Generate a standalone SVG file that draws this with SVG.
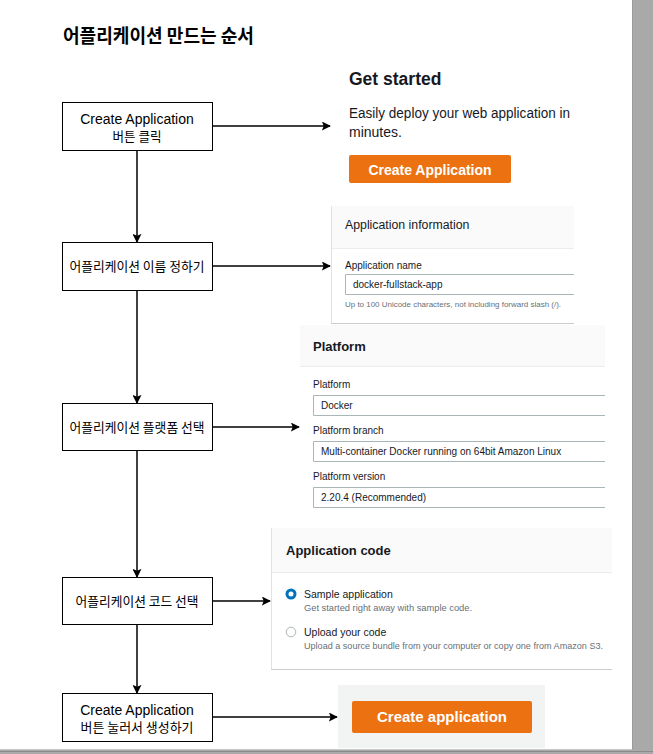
<svg xmlns="http://www.w3.org/2000/svg" width="653" height="754" viewBox="0 0 653 754">
  <style>
    .node rect { fill: #ffffff; stroke: #000000; stroke-width: 1; }
    .lbl { font-family: "Liberation Sans", "Noto Sans CJK KR", sans-serif; font-size: 14px; fill: #000000; text-anchor: middle; }
    .ko { font-family: "Noto Sans CJK KR", sans-serif; font-size: 13px; fill: #000000; text-anchor: middle; }
    .edge { stroke: #000000; stroke-width: 1.5; fill: none; marker-end: url(#arrow); }
    .ui { font-family: "Liberation Sans", Arial, sans-serif; fill: #16191f; }
    .hint { font-family: "Liberation Sans", Arial, sans-serif; fill: #687078; }
    .field { fill: #ffffff; stroke: #aab7b8; stroke-width: 1; }
    .panel-head { fill: #fafafa; }
    .btn { fill: #ec7211; }
    .btntxt { font-family: "Liberation Sans", Arial, sans-serif; font-weight: bold; fill: #ffffff; text-anchor: middle; }
  </style>
  <defs>
    <marker id="arrow" viewBox="0 0 10 10" refX="9" refY="5" markerWidth="6" markerHeight="6" orient="auto" markerUnits="strokeWidth">
      <path d="M0,0 L10,5 L0,10 L2,5 z" fill="#000000"/>
    </marker>
  </defs>

  <!-- page background and window frame -->
  <rect x="0" y="0" width="653" height="754" fill="#ffffff"/>
  <rect x="632" y="0" width="21" height="754" fill="#a9a9a9"/>
  <line x1="632.5" y1="0" x2="632.5" y2="749" stroke="#9a9a9a"/>
  <rect x="0" y="749" width="653" height="5" fill="#a9a9a9"/>
  <line x1="0" y1="749.5" x2="632" y2="749.5" stroke="#c8c8c8"/>
  <line x1="0" y1="751.5" x2="653" y2="751.5" stroke="#8a8a8a"/>

  <!-- title -->
  <text x="63" y="43" font-family="'Noto Sans CJK KR', sans-serif" font-size="19" font-weight="bold" fill="#000000" textLength="191" lengthAdjust="spacingAndGlyphs">어플리케이션 만드는 순서</text>

  <!-- step 1 screenshot: Get started -->
  <g id="shot-get-started">
    <text class="ui" x="349" y="85" font-size="17.5" font-weight="bold">Get started</text>
    <text class="ui" x="349" y="118" font-size="14" textLength="221" lengthAdjust="spacingAndGlyphs">Easily deploy your web application in</text>
    <text class="ui" x="349" y="137" font-size="14">minutes.</text>
    <rect class="btn" x="349" y="155" width="162" height="28" rx="2"/>
    <text class="btntxt" x="430" y="175" font-size="14">Create Application</text>
  </g>

  <!-- step 2 screenshot: Application information -->
  <g id="shot-app-info">
    <rect x="331" y="206" width="243" height="117" fill="#ffffff"/>
    <rect class="panel-head" x="331" y="206" width="243" height="42"/>
    <line x1="331" y1="248.5" x2="574" y2="248.5" stroke="#eaeded"/>
    <line x1="331.5" y1="206" x2="331.5" y2="324" stroke="#dfe3e3"/>
    <line x1="331" y1="323.5" x2="574" y2="323.5" stroke="#c9cfd0"/>
    <text class="ui" x="345" y="229" font-size="12.3">Application information</text>
    <text class="ui" x="345" y="269" font-size="10">Application name</text>
    <path class="field" d="M574,274.5 H345.5 V294.5 H574" fill="none"/>
    <text class="ui" x="353" y="288" font-size="10">docker-fullstack-app</text>
    <text class="hint" x="345" y="307" font-size="8" textLength="216" lengthAdjust="spacingAndGlyphs">Up to 100 Unicode characters, not including forward slash (/).</text>
  </g>

  <!-- step 3 screenshot: Platform -->
  <g id="shot-platform">
    <rect class="panel-head" x="300" y="325" width="305" height="41"/>
    <line x1="300" y1="366.5" x2="605" y2="366.5" stroke="#eaeded"/>
    <text class="ui" x="313" y="351" font-size="13" font-weight="bold">Platform</text>
    <text class="ui" x="313" y="388" font-size="10">Platform</text>
    <path class="field" d="M605,395.5 H313.5 V415.5 H605"/>
    <text class="ui" x="321" y="409" font-size="10">Docker</text>
    <text class="ui" x="313" y="434" font-size="10">Platform branch</text>
    <path class="field" d="M605,441.5 H313.5 V461.5 H605"/>
    <text class="ui" x="321" y="455" font-size="10">Multi-container Docker running on 64bit Amazon Linux</text>
    <text class="ui" x="313" y="480" font-size="10">Platform version</text>
    <path class="field" d="M605,487.5 H313.5 V507.5 H605"/>
    <text class="ui" x="321" y="501" font-size="10">2.20.4 (Recommended)</text>
  </g>

  <!-- step 4 screenshot: Application code -->
  <g id="shot-app-code">
    <rect class="panel-head" x="271" y="528" width="341" height="44"/>
    <line x1="271" y1="572.5" x2="612" y2="572.5" stroke="#eaeded"/>
    <line x1="271.5" y1="528" x2="271.5" y2="670" stroke="#dfe3e3"/>
    <line x1="271" y1="669.5" x2="612" y2="669.5" stroke="#c9cfd0"/>
    <text class="ui" x="286" y="555" font-size="13" font-weight="bold">Application code</text>
    <circle cx="291" cy="594" r="4" fill="#ffffff" stroke="#0073bb" stroke-width="3"/>
    <text class="ui" x="304" y="598" font-size="10.5">Sample application</text>
    <text class="hint" x="304" y="611" font-size="9" textLength="168" lengthAdjust="spacingAndGlyphs">Get started right away with sample code.</text>
    <circle cx="291" cy="632" r="4.8" fill="#ffffff" stroke="#aab7b8" stroke-width="1"/>
    <text class="ui" x="304" y="636" font-size="10.5">Upload your code</text>
    <text class="hint" x="304" y="649" font-size="9" textLength="299" lengthAdjust="spacingAndGlyphs">Upload a source bundle from your computer or copy one from Amazon S3.</text>
  </g>

  <!-- step 5 screenshot: Create application button -->
  <g id="shot-create">
    <rect x="338" y="685" width="207" height="63" fill="#f2f3f3"/>
    <rect class="btn" x="352" y="701" width="180" height="32" rx="2"/>
    <text class="btntxt" x="442" y="722" font-size="15">Create application</text>
  </g>

  <!-- flow steps -->
  <g id="step1" class="node">
    <rect x="62.5" y="102.5" width="150" height="48"/>
    <text class="lbl" x="137" y="124">Create Application</text>
    <text class="ko" x="137" y="141" textLength="49" lengthAdjust="spacingAndGlyphs">버튼 클릭</text>
  </g>
  <g id="step2" class="node">
    <rect x="62.5" y="242.5" width="150" height="48"/>
    <text class="ko" x="137" y="271" textLength="135" lengthAdjust="spacingAndGlyphs">어플리케이션 이름 정하기</text>
  </g>
  <g id="step3" class="node">
    <rect x="62.5" y="403.5" width="150" height="47"/>
    <text class="ko" x="137" y="432" textLength="135" lengthAdjust="spacingAndGlyphs">어플리케이션 플랫폼 선택</text>
  </g>
  <g id="step4" class="node">
    <rect x="62.5" y="577.5" width="150" height="47"/>
    <text class="ko" x="137" y="606" textLength="123" lengthAdjust="spacingAndGlyphs">어플리케이션 코드 선택</text>
  </g>
  <g id="step5" class="node">
    <rect x="62.5" y="693.5" width="150" height="48"/>
    <text class="lbl" x="137" y="715">Create Application</text>
    <text class="ko" x="137" y="732" textLength="113" lengthAdjust="spacingAndGlyphs">버튼 눌러서 생성하기</text>
  </g>

  <!-- connectors -->
  <g id="connectors">
    <line class="edge" x1="137" y1="151" x2="137" y2="242"/>
    <line class="edge" x1="137" y1="291" x2="137" y2="403"/>
    <line class="edge" x1="137" y1="451" x2="137" y2="577"/>
    <line class="edge" x1="137" y1="625" x2="137" y2="693"/>
    <line class="edge" x1="213" y1="126" x2="330" y2="126"/>
    <line class="edge" x1="213" y1="266" x2="330" y2="266"/>
    <line class="edge" x1="213" y1="427" x2="299" y2="427"/>
    <line class="edge" x1="213" y1="601" x2="270" y2="601"/>
    <line class="edge" x1="213" y1="717" x2="337" y2="717"/>
  </g>
</svg>
